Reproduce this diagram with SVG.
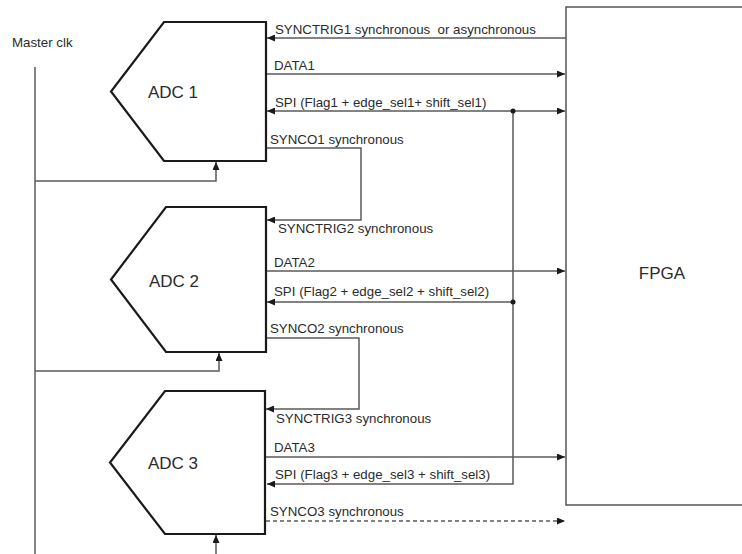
<svg xmlns="http://www.w3.org/2000/svg" width="742" height="554" viewBox="0 0 742 554">
<style>
.adc{fill:#fff;stroke:#1a1a1a;stroke-width:2.2;stroke-linejoin:miter}
.fpga{fill:#fff;stroke:#555;stroke-width:1.5}
.w{fill:none;stroke:#5a5a5a;stroke-width:1.5}
.t{font-family:"Liberation Sans",Arial,sans-serif;font-size:13.3px;fill:#2b2b2b;white-space:pre}
.big{font-family:"Liberation Sans",Arial,sans-serif;font-size:17px;fill:#2b2b2b}
</style>
<defs>
<marker id="ah" markerUnits="userSpaceOnUse" markerWidth="8" markerHeight="7" refX="8" refY="3.5" orient="auto-start-reverse">
<path d="M0,0 L8,3.5 L0,7 z" fill="#1a1a1a"/>
</marker>
</defs>
<rect x="0" y="0" width="742" height="554" fill="#fff"/>
<g id="fpga">
<rect class="fpga" x="566" y="7" width="200" height="498"/>
<text class="big" x="662" y="279" text-anchor="middle" font-size="19">FPGA</text>
</g>
<g id="adc1">
<polygon class="adc" points="164,22 266,22 266,161 164,161 111,91.5"/>
<text class="big" x="148" y="98">ADC 1</text>
</g>
<g id="adc2">
<polygon class="adc" points="166,207 266,207 266,352 166,352 111,279.5"/>
<text class="big" x="149" y="287">ADC 2</text>
</g>
<g id="adc3">
<polygon class="adc" points="165,391 265,391 265,534 165,534 110,462.5"/>
<text class="big" x="148" y="469">ADC 3</text>
</g>
<g id="masterclk">
<text class="t" x="12" y="47" font-size="14">Master clk</text>
</g>
<g id="connectors">
<path class="w" d="M35,67 V554"/>
<path class="w" d="M35,181 H216 V162" marker-end="url(#ah)"/>
<path class="w" d="M35,371 H219 V353" marker-end="url(#ah)"/>
<path class="w" d="M216,554 V535" marker-end="url(#ah)"/>
<path class="w" d="M566,38 H267" marker-end="url(#ah)"/>
<path class="w" d="M267,74 H565" marker-end="url(#ah)"/>
<path class="w" d="M267,111 H565" marker-start="url(#ah)" marker-end="url(#ah)"/>
<path class="w" d="M513,111 V484 H267" marker-end="url(#ah)"/>
<path class="w" d="M513,302 H267" marker-end="url(#ah)"/>
<circle cx="513" cy="111" r="2.5" fill="#1a1a1a"/>
<circle cx="513" cy="302" r="2.5" fill="#1a1a1a"/>
<path class="w" d="M267,148 H361 V220 H267" marker-end="url(#ah)"/>
<path class="w" d="M267,271 H565" marker-end="url(#ah)"/>
<path class="w" d="M267,338 H359 V409 H266" marker-end="url(#ah)"/>
<path class="w" d="M266,457 H565" marker-end="url(#ah)"/>
<path class="w" d="M266,521 H565" stroke-dasharray="4,3" marker-end="url(#ah)"/>
<text class="t" x="275" y="34" xml:space="preserve">SYNCTRIG1 synchronous  or asynchronous</text>
<text class="t" x="274" y="70">DATA1</text>
<text class="t" x="275" y="107">SPI (Flag1 + edge_sel1+ shift_sel1)</text>
<text class="t" x="270" y="144">SYNCO1 synchronous</text>
<text class="t" x="278" y="233">SYNCTRIG2 synchronous</text>
<text class="t" x="274" y="267">DATA2</text>
<text class="t" x="274" y="296">SPI (Flag2 + edge_sel2 + shift_sel2)</text>
<text class="t" x="270" y="333">SYNCO2 synchronous</text>
<text class="t" x="276" y="423">SYNCTRIG3 synchronous</text>
<text class="t" x="274" y="452">DATA3</text>
<text class="t" x="275" y="479">SPI (Flag3 + edge_sel3 + shift_sel3)</text>
<text class="t" x="270" y="516">SYNCO3 synchronous</text>
</g>
</svg>
